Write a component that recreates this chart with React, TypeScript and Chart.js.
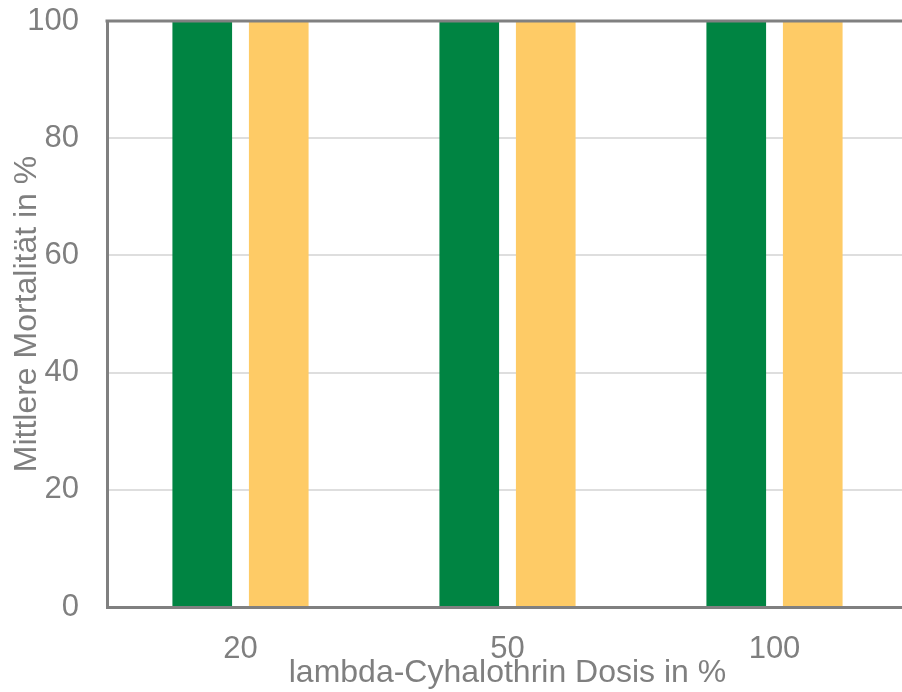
import React, { useEffect, useRef } from "react";
import { Chart, registerables } from "chart.js";

Chart.register(...registerables);

const categories = ["20", "50", "100"];
const seriesGreen = [100, 100, 100];
const seriesYellow = [100, 100, 100];
const seriesNames = ["Serie 1", "Serie 2"];
const yTicks = [0, 20, 40, 60, 80, 100];

const GRAY = "#808080";
const TEXT = "#7f7f7f";
const FONT = "'Liberation Sans', Arial, Helvetica, sans-serif";

const topLinePlugin = {
  id: "topLine",
  afterDatasetsDraw(chart: any) {
    const { ctx, chartArea, scales } = chart;
    const y = scales.y.getPixelForValue(yTicks[yTicks.length - 1]);
    ctx.save();
    ctx.strokeStyle = GRAY;
    ctx.lineWidth = 3;
    ctx.beginPath();
    ctx.moveTo(chartArea.left - 1.5, y);
    ctx.lineTo(chartArea.right, y);
    ctx.stroke();
    ctx.restore();
  },
};

export default function App() {
  const ref = useRef<HTMLCanvasElement | null>(null);

  useEffect(() => {
    document.body.style.overflow = "hidden";
    const canvas = ref.current;
    if (!canvas) return;
    const chart = new Chart(canvas, {
      type: "bar",
      data: {
        labels: categories,
        datasets: [
          {
            label: seriesNames[0],
            data: seriesGreen,
            backgroundColor: "#008442",
            borderWidth: 0,
            categoryPercentage: 0.573,
            barPercentage: 0.78,
          },
          {
            label: seriesNames[1],
            data: seriesYellow,
            backgroundColor: "#fecb66",
            borderWidth: 0,
            categoryPercentage: 0.573,
            barPercentage: 0.78,
          },
        ],
      },
      options: {
        animation: false,
        responsive: false,
        maintainAspectRatio: false,
        layout: { padding: { top: 21, right: 2, left: 0, bottom: 0 } },
        plugins: {
          legend: { display: false },
          tooltip: { enabled: false },
        },
        scales: {
          x: {
            grid: { display: false, drawTicks: false },
            border: { display: true, color: GRAY, width: 3 },
            ticks: {
              color: TEXT,
              font: { family: FONT, size: 31 },
              padding: 24,
              maxRotation: 0,
            },
            title: {
              display: true,
              text: "lambda-Cyhalothrin Dosis in %",
              color: TEXT,
              font: { family: FONT, size: 32 },
              padding: { top: 0, bottom: 0 },
            },
            afterFit(scale: any) {
              scale.height = 85;
            },
          },
          y: {
            min: 0,
            max: 100,
            afterBuildTicks(scale: any) {
              scale.ticks = yTicks.map((v) => ({ value: v }));
            },
            grid: {
              drawTicks: true,
              tickLength: 28,
              tickColor: "rgba(0,0,0,0)",
              color: (c: any) =>
                c.tick && (c.tick.value === 100 || c.tick.value === 0) ? "rgba(0,0,0,0)" : "#dedede",
              lineWidth: 2,
            },
            border: { display: true, color: GRAY, width: 3 },
            ticks: {
              color: TEXT,
              font: { family: FONT, size: 31 },
              padding: 0,
              stepSize: 20,
            },
            title: {
              display: true,
              text: "Mittlere Mortalität in %",
              color: TEXT,
              font: { family: FONT, size: 32 },
              padding: { top: 8, bottom: 0 },
            },
            afterFit(scale: any) {
              scale.width = 107;
            },
          },
        },
      },
      plugins: [topLinePlugin],
    });
    return () => chart.destroy();
  }, []);

  return (
    <div style={{ position: "absolute", left: 0, top: 0, width: 910, height: 692 }}>
      <canvas ref={ref} width={910} height={692} style={{ display: "block" }} />
    </div>
  );
}
